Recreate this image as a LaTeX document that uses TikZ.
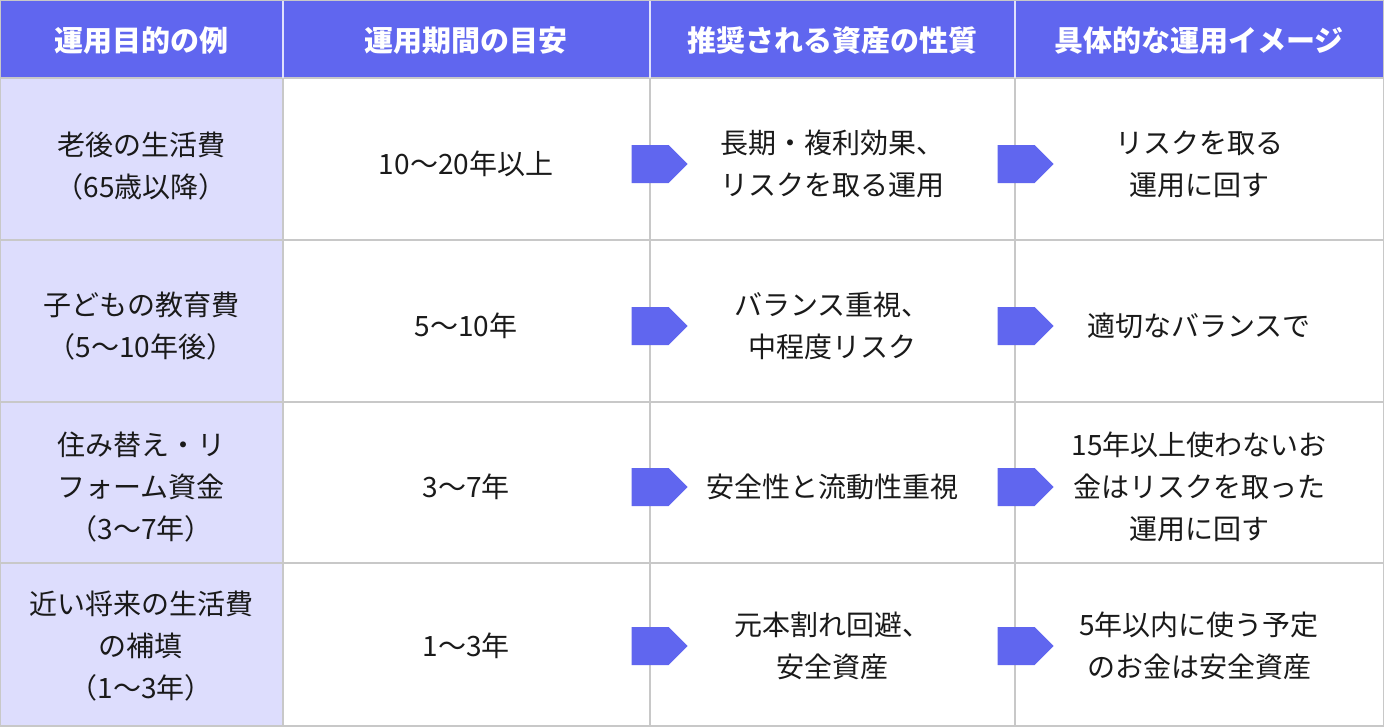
\documentclass[tikz,border=0pt]{standalone}
\usepackage{fontspec}
\setmainfont{Noto Sans CJK JP}
\usetikzlibrary{shapes.arrows}
\definecolor{hdr}{HTML}{6066EF}
\definecolor{first}{HTML}{DDDDFD}
\definecolor{grid}{HTML}{C8C8C8}
\definecolor{txt}{HTML}{1A1A1A}
\tikzset{
  hd/.style={text=white,font=\fontsize{29}{36}\selectfont\bfseries,align=center},
  cell/.style={text=txt,font=\fontsize{28}{42}\selectfont,align=center},
  barrow/.style={single arrow,fill=hdr,draw=none,minimum height=56pt,minimum width=38pt,single arrow head extend=0pt,single arrow tip angle=90,inner sep=0pt,anchor=center,shape border uses incircle}
}
\begin{document}
\begin{tikzpicture}[x=1pt,y=-1pt]
\useasboundingbox (0,0) rectangle (1384,728);
\fill[white] (0,0) rectangle (1384,728);
\fill[hdr] (0,0) rectangle (1384,78);
\fill[first] (0,78) rectangle (283,726);
\foreach \y in {78,240,402,563,726} \draw[grid,line width=1.5pt] (0,\y) -- (1384,\y);
\foreach \x in {283,650,1015} \draw[grid,line width=1.5pt] (\x,78) -- (\x,726);
\foreach \x in {283,650,1015} \draw[white!80!hdr,line width=1.5pt] (\x,0) -- (\x,78);
\draw[grid,line width=1.5pt] (0,0) rectangle (1384,726);
\node[hd] (h1) at (141,41) {運用目的の例};
\node[hd] (h2) at (466,41) {運用期間の目安};
\node[hd] (h3) at (832,41) {推奨される資産の性質};
\node[hd] (h4) at (1199,41) {具体的な運用イメージ};
% row 1
\node[cell] (a1) at (141,166) {老後の生活費\\（65歳以降）};
\node[cell] (b1) at (466,164) {10〜20年以上};
\node[cell] (c1) at (832,164) {長期・複利効果、\\リスクを取る運用};
\node[cell] (d1) at (1199,164) {リスクを取る\\運用に回す};
% row 2
\node[cell] (a2) at (141,326) {子どもの教育費\\（5〜10年後）};
\node[cell] (b2) at (466,326) {5〜10年};
\node[cell] (c2) at (832,326) {バランス重視、\\中程度リスク};
\node[cell] (d2) at (1199,326) {適切なバランスで};
% row 3
\node[cell] (a3) at (141,487) {住み替え・リ\\フォーム資金\\（3〜7年）};
\node[cell] (b3) at (466,487) {3〜7年};
\node[cell] (c3) at (832,487) {安全性と流動性重視};
\node[cell] (d3) at (1199,487) {15年以上使わないお\\金はリスクを取った\\運用に回す};
% row 4
\node[cell] (a4) at (141,646) {近い将来の生活費\\の補填\\（1〜3年）};
\node[cell] (b4) at (466,646) {1〜3年};
\node[cell] (c4) at (832,646) {元本割れ回避、\\安全資産};
\node[cell] (d4) at (1199,646) {5年以内に使う予定\\のお金は安全資産};
\foreach \y/\r in {164/1,326/2,487/3,646/4}{
  \node[barrow] (p\r) at (650,\y) {};
  \node[barrow] (q\r) at (1016,\y) {};
}
\end{tikzpicture}
\end{document}
